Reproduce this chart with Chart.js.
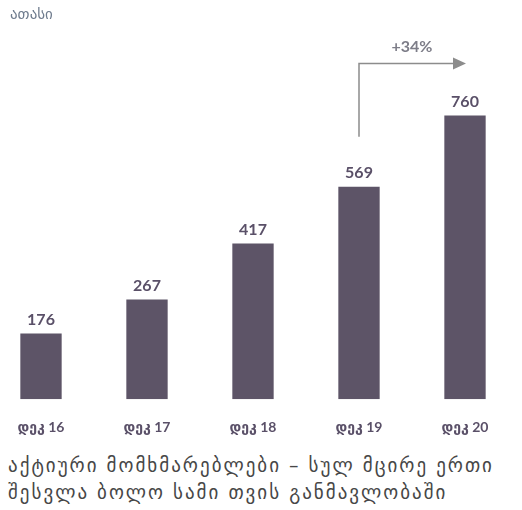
<!DOCTYPE html>
<html>
<head>
<meta charset="utf-8">
<script src="https://cdn.jsdelivr.net/npm/chart.js@4/dist/chart.umd.min.js"></script>
<style>
  html, body { margin: 0; padding: 0; background: #fff; }
  body { width: 522px; height: 510px; position: relative; overflow: hidden; }
  #wrap { position: absolute; left: -12px; top: 0; width: 530px; height: 448px; }
  #unit { position: absolute; left: 10px; top: 5px; font: 15px "DejaVu Sans", sans-serif; color: #6f7c8e; }
  #caption { position: absolute; left: 8px; top: 452px; font: 19px "DejaVu Sans", sans-serif; letter-spacing: 2px; color: #474747; line-height: 27px; white-space: nowrap; }
</style>
</head>
<body>
<div id="wrap"><canvas id="chart"></canvas></div>
<div id="unit">ათასი</div>
<div id="caption">აქტიური  მომხმარებლები – სულ მცირე ერთი<br>შესვლა ბოლო სამი თვის განმავლობაში</div>
<script>
// active users, thousands
const categories = ['დეკ 16', 'დეკ 17', 'დეკ 18', 'დეკ 19', 'დეკ 20'];
const users = [176, 267, 417, 569, 760];
const growthLabel = '+34%';

const BAR = '#5d5467';
const INK = '#5a5068';

// numbers above each bar
const valueLabels = {
  id: 'valueLabels',
  afterDatasetsDraw(chart) {
    const { ctx } = chart;
    const meta = chart.getDatasetMeta(0);
    ctx.save();
    ctx.font = 'bold 16px Lato, "DejaVu Sans", sans-serif';
    ctx.fillStyle = INK;
    ctx.textAlign = 'center';
    ctx.textBaseline = 'bottom';
    meta.data.forEach((bar, i) => {
      ctx.fillText(users[i], bar.x, bar.y - 6);
    });
    ctx.restore();
  }
};

// elbow arrow from the 2019 bar over to the 2020 bar
const growthArrow = {
  id: 'growthArrow',
  afterDatasetsDraw(chart) {
    const { ctx } = chart;
    const meta = chart.getDatasetMeta(0);
    const from = meta.data[3];
    const to = meta.data[4];
    const yTop = to.y - 52;
    const yBottom = from.y - 50;
    ctx.save();
    ctx.strokeStyle = '#8c8c8c';
    ctx.fillStyle = '#8c8c8c';
    ctx.lineWidth = 1.5;
    ctx.beginPath();
    ctx.moveTo(from.x, yBottom);
    ctx.lineTo(from.x, yTop);
    ctx.lineTo(to.x - 11, yTop);
    ctx.stroke();
    ctx.beginPath();
    ctx.moveTo(to.x + 1, yTop);
    ctx.lineTo(to.x - 12, yTop - 6);
    ctx.lineTo(to.x - 12, yTop + 6);
    ctx.closePath();
    ctx.fill();
    ctx.font = 'bold 16px Lato, "DejaVu Sans", sans-serif';
    ctx.fillStyle = '#7d7d88';
    ctx.textAlign = 'center';
    ctx.textBaseline = 'bottom';
    ctx.fillText(growthLabel, (from.x + to.x) / 2, yTop - 9);
    ctx.restore();
  }
};

new Chart(document.getElementById('chart'), {
  type: 'bar',
  data: {
    labels: categories,
    datasets: [{
      data: users,
      backgroundColor: BAR,
      borderWidth: 0,
      categoryPercentage: 1,
      barPercentage: 0.39
    }]
  },
  options: {
    responsive: true,
    maintainAspectRatio: false,
    animation: false,
    layout: { padding: { top: 26, left: 0, right: 0, bottom: 0 } },
    plugins: {
      legend: { display: false },
      tooltip: { enabled: false }
    },
    scales: {
      x: {
        grid: { display: false },
        border: { display: false },
        ticks: {
          color: INK,
          padding: 12,
          font: { family: 'Lato, "DejaVu Sans", sans-serif', size: 14, weight: 'bold' }
        }
      },
      y: {
        display: false,
        min: 0,
        max: 1000
      }
    }
  },
  plugins: [valueLabels, growthArrow]
});
</script>
</body>
</html>
